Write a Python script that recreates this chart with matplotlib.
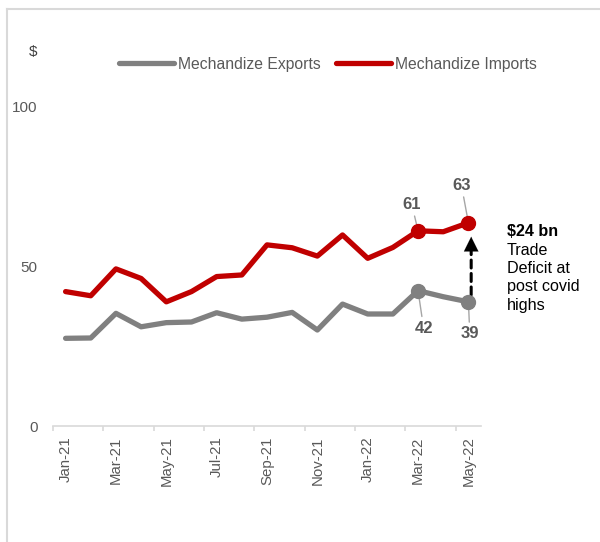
import matplotlib
matplotlib.use("Agg")
import matplotlib.pyplot as plt
from matplotlib.lines import Line2D
import numpy as np

plt.rcParams['font.family'] = ['Liberation Sans', 'DejaVu Sans']

months = ["Jan-21", "Feb-21", "Mar-21", "Apr-21", "May-21", "Jun-21", "Jul-21", "Aug-21",
          "Sep-21", "Oct-21", "Nov-21", "Dec-21", "Jan-22", "Feb-22", "Mar-22", "Apr-22", "May-22"]
exports = [27.4, 27.5, 35.2, 31.0, 32.3, 32.5, 35.4, 33.4, 34.0, 35.5, 30.0, 38.1,
           35.0, 35.0, 42.3, 40.4, 38.8]
imports = [42.0, 40.7, 49.1, 46.1, 38.8, 42.0, 46.7, 47.2, 56.6, 55.7, 53.1, 59.7,
           52.4, 55.8, 61.0, 60.7, 63.5]
highlight_idx = [14, 16]
exp_labels = ["42", "39"]
imp_labels = ["61", "63"]
yticks = [0, 50, 100]

GRAY = '#808080'
RED = '#C00000'
TXT = '#595959'
AX = '#D9D9D9'

fig = plt.figure(figsize=(6, 5.42), dpi=100)
ax = fig.add_axes([53/600, 1-426/542, (481-53)/600, (426-106)/542])

x = np.arange(len(months))
ax.plot(x, exports, color=GRAY, lw=3.8, solid_capstyle='round', solid_joinstyle='round',
        zorder=4, label='Mechandize Exports')
ax.plot(x, imports, color=RED, lw=3.8, solid_capstyle='round', solid_joinstyle='round',
        zorder=4, label='Mechandize Imports')
ax.plot(x[highlight_idx], np.array(exports)[highlight_idx], 'o', color=GRAY, ms=10, zorder=5)
ax.plot(x[highlight_idx], np.array(imports)[highlight_idx], 'o', color=RED, ms=10, zorder=5)

ax.set_xlim(-0.5, len(months) - 0.5)
ax.set_ylim(0, 100)

for sp in ['top', 'right', 'left']:
    ax.spines[sp].set_visible(False)
ax.spines['bottom'].set_color(AX)
ax.spines['bottom'].set_linewidth(1.2)

ax.set_yticks(yticks)
ax.set_yticklabels([str(v) for v in yticks])
ax.tick_params(axis='y', length=0, pad=11, labelsize=11, labelcolor=TXT)

ax.set_xticks(x[::2])
ax.set_xticklabels(months[::2], rotation=90)
ax.tick_params(axis='x', which='major', length=0, pad=7.5, labelsize=10.8, labelcolor=TXT)
ax.set_xticks(np.arange(-0.5, len(months) - 1, 2), minor=True)
ax.tick_params(axis='x', which='minor', length=3.5, width=1.2, color=AX)

# point labels with leader lines
leader = dict(arrowstyle='-', color='#A6A6A6', lw=1, shrinkA=1, shrinkB=0)
offs_imp = [(-4.5, 19), (-5, 27)]
offs_exp = [(4, -27), (1, -23)]
for i, lab, off in zip(highlight_idx, imp_labels, offs_imp):
    ax.annotate(lab, xy=(i, imports[i]), xytext=off, textcoords='offset points',
                ha='center', va='center', fontsize=12, fontweight='bold', color=TXT,
                arrowprops=leader, zorder=3)
for i, lab, off in zip(highlight_idx, exp_labels, offs_exp):
    ax.annotate(lab, xy=(i, exports[i]), xytext=off, textcoords='offset points',
                ha='center', va='center', fontsize=12, fontweight='bold', color=TXT,
                arrowprops=leader, zorder=3)

# dashed deficit arrow
xa = len(months) - 1 + 0.11
ax.annotate('', xy=(xa, imports[-1]), xytext=(xa, exports[-1]),
            arrowprops=dict(arrowstyle='-', color='black', lw=2.2, linestyle=(0, (2.6, 1.8)),
                            shrinkA=5, shrinkB=18), zorder=3)
ax.annotate('', xy=(xa, imports[-1]), xytext=(xa, imports[-1] - 8),
            arrowprops=dict(arrowstyle='-|>,head_length=1.05,head_width=0.52', color='black',
                            lw=0.1, mutation_scale=10, shrinkA=0, shrinkB=10), zorder=3)

fig.text(507/600, 1-232/542, "$24 bn", fontsize=11.6, fontweight='bold', color='black',
         ha='left', va='center')
fig.text(507/600, 1-243/542, "Trade\nDeficit at\npost covid\nhighs", fontsize=11.6,
         color='black', ha='left', va='top', linespacing=1.27)

fig.text(33/600, 1-52/542, "$", fontsize=11, color='#404040', ha='center', va='center')

handles, labels = ax.get_legend_handles_labels()
leg = fig.legend(handles, labels, loc='center', bbox_to_anchor=(328/600, 1-64/542), ncol=2,
                 frameon=False, fontsize=11.3, handlelength=3.5, handletextpad=0.25,
                 columnspacing=1.0, labelcolor=TXT)

# outer frame
fig.add_artist(Line2D([7/600, 1], [1-9/542, 1-9/542], transform=fig.transFigure, color=AX, lw=1.5))
fig.add_artist(Line2D([7/600, 7/600], [1-9/542, 0], transform=fig.transFigure, color=AX, lw=1.5))

fig.savefig("out.png", dpi=100)
